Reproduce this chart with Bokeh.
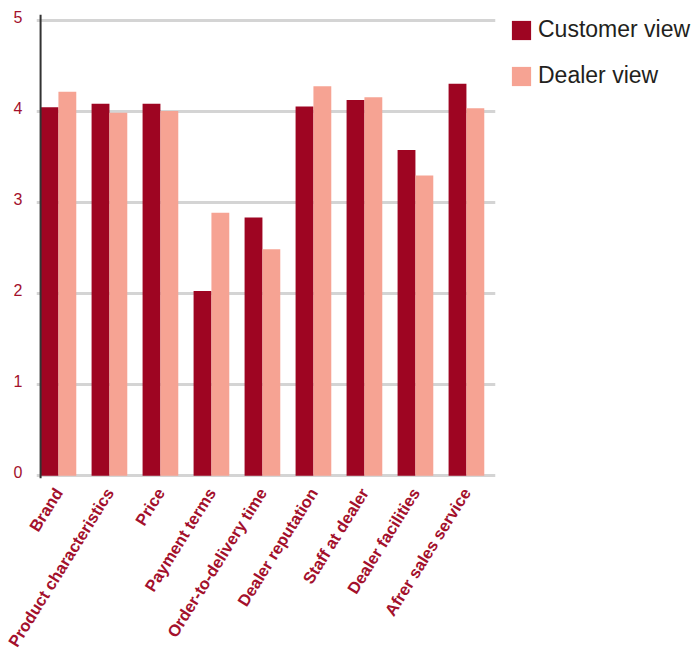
import math
from bokeh.plotting import figure
from bokeh.models import (ColumnDataSource, Range1d, FixedTicker, Span, Legend, LegendItem,
                          LinearAxis)
from bokeh.transform import dodge
from bokeh.embed import file_html
from bokeh.resources import INLINE

categories = ["Brand", "Product characteristics", "Price", "Payment terms",
              "Order-to-delivery time", "Dealer reputation", "Staff at dealer",
              "Dealer facilities", "Afrer sales service"]
customer_view = [4.05, 4.09, 4.09, 2.03, 2.84, 4.06, 4.13, 3.58, 4.31]
dealer_view = [4.22, 3.99, 4.01, 2.89, 2.49, 4.28, 4.16, 3.30, 4.04]
y_ticks = [0, 1, 2, 3, 4, 5]

CUST = "#9e0522"
DEAL = "#f6a393"
LABEL = "#a3102c"

src = ColumnDataSource(dict(x=list(range(len(categories))), cust=customer_view, deal=dealer_view))

Y0, Y1 = -0.03, 5.07
SHIFT = 0.045  # raises the y labels slightly above their gridlines

p = figure(frame_width=459, frame_height=464, output_backend="svg", toolbar_location=None,
           x_range=Range1d(-0.43, 8.57), y_range=Range1d(Y0, Y1), y_axis_location=None,
           min_border_left=36, min_border_right=0, min_border_top=14, min_border_bottom=0)
p.outline_line_color = None
p.background_fill_color = "white"
p.extra_y_ranges = {"lab": Range1d(Y0 - SHIFT, Y1 - SHIFT)}

r1 = p.vbar(x=dodge("x", -0.175), top="cust", width=0.35, source=src, fill_color=CUST, line_color=None)
r2 = p.vbar(x=dodge("x", 0.175), top="deal", width=0.35, source=src, fill_color=DEAL, line_color=None)

p.add_layout(Span(location=-0.35, dimension="height", line_color="#333333", line_width=2))

p.xgrid.visible = False
p.ygrid.ticker = FixedTicker(ticks=y_ticks)
p.ygrid.grid_line_color = "#d4d4d4"
p.ygrid.grid_line_width = 3

yax = LinearAxis(y_range_name="lab", ticker=FixedTicker(ticks=y_ticks))
yax.axis_line_color = None
yax.major_tick_line_color = None
yax.minor_tick_line_color = None
yax.major_label_text_color = LABEL
yax.major_label_text_font = "Liberation Sans"
yax.major_label_text_font_size = "16px"
yax.major_label_standoff = 8
p.add_layout(yax, "left")

p.xaxis.ticker = FixedTicker(ticks=list(range(len(categories))))
p.xaxis.major_label_overrides = {i: c for i, c in enumerate(categories)}
p.xaxis.axis_line_color = None
p.xaxis.major_tick_line_color = None
p.xaxis.minor_tick_line_color = None
p.xaxis.major_label_orientation = math.radians(58)
p.xaxis.major_label_text_color = LABEL
p.xaxis.major_label_text_font = "Liberation Sans"
p.xaxis.major_label_text_font_style = "bold"
p.xaxis.major_label_text_font_size = "16.5px"
p.xaxis.major_label_standoff = 5

legend = Legend(items=[LegendItem(label="Customer view", renderers=[r1]),
                       LegendItem(label="Dealer view", renderers=[r2])],
                location=(14, 389), orientation="vertical")
legend.border_line_color = None
legend.background_fill_alpha = 0
legend.margin = 0
legend.padding = 6
legend.glyph_width = 24
legend.glyph_height = 24
legend.label_height = 19
legend.spacing = 19
legend.label_standoff = 5
legend.label_text_font = "Liberation Sans"
legend.label_text_font_size = "23px"
legend.label_text_color = "#231f20"
p.add_layout(legend, "right")

open("out.html", "w").write(file_html(p, INLINE))
